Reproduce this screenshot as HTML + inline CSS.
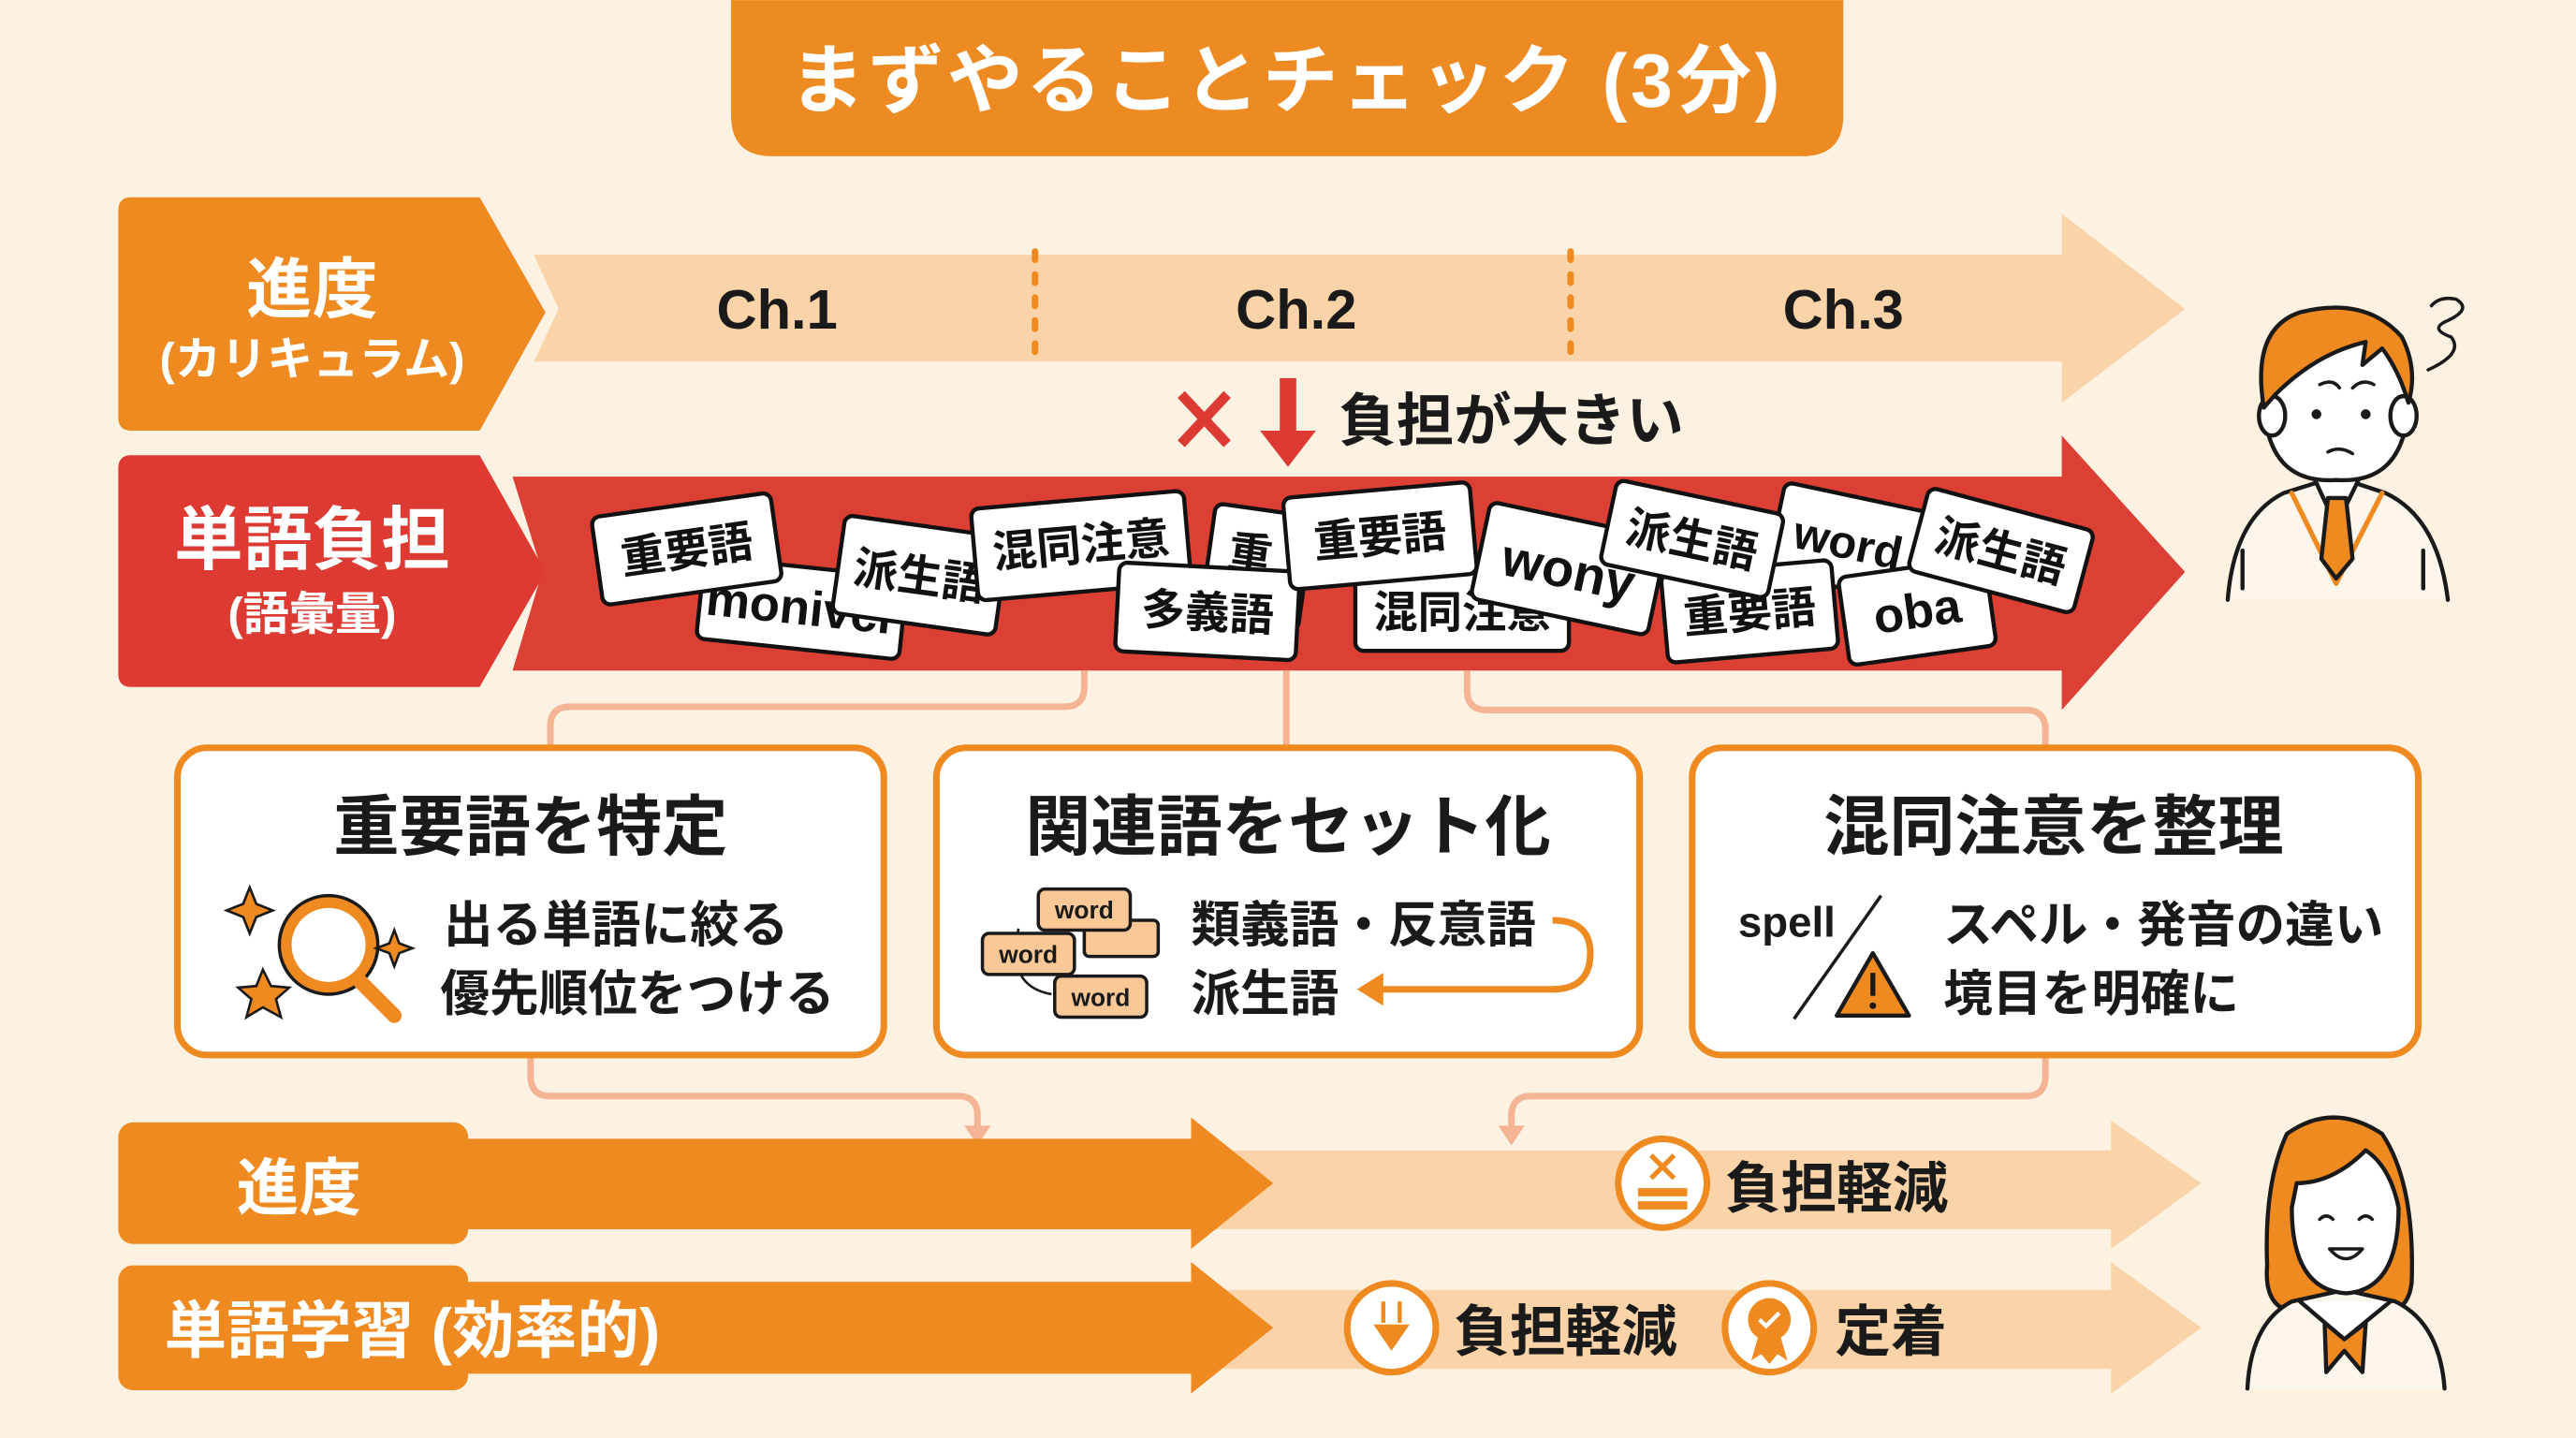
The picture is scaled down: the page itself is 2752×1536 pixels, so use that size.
<!DOCTYPE html>
<html><head><meta charset="utf-8"><style>
html,body{margin:0;padding:0;background:#fdf1e2;}
svg{display:block}
text{font-family:"Liberation Sans","Noto Sans CJK JP",sans-serif;font-weight:bold}
</style></head><body>
<svg width="2752" height="1536" viewBox="0 0 1568 875" xmlns="http://www.w3.org/2000/svg">
<rect width="1568" height="875" fill="#fdf1e2"/>
<!-- title -->
<path d="M445 0 H1122 V70 Q1122 95 1097 95 H470 Q445 95 445 70 Z" fill="#ee8a22"/>
<text x="783" y="65" font-size="46" fill="#fff" text-anchor="middle" letter-spacing="2">まずやることチェック (3分)</text>

<!-- row1 -->
<path d="M325 155 H1255 V130 L1330 188 L1255 245 V220 H325 L340 188 Z" fill="#fad3a8"/>
<path d="M80 120 H292 L332 190 L292 262 H80 Q72 262 72 254 V128 Q72 120 80 120 Z" fill="#ef8a20"/>
<text x="190" y="190" font-size="40" fill="#fff" text-anchor="middle">進度</text>
<text x="190" y="228" font-size="28" fill="#fff" text-anchor="middle">(カリキュラム)</text>
<line x1="630" y1="153" x2="630" y2="222" stroke="#ef8a20" stroke-width="4" stroke-dasharray="5 9" stroke-linecap="round"/>
<line x1="956" y1="153" x2="956" y2="222" stroke="#ef8a20" stroke-width="4" stroke-dasharray="5 9" stroke-linecap="round"/>
<text x="473" y="200" font-size="34" fill="#1a1a1a" text-anchor="middle">Ch.1</text>
<text x="789" y="200" font-size="34" fill="#1a1a1a" text-anchor="middle">Ch.2</text>
<text x="1122" y="200" font-size="34" fill="#1a1a1a" text-anchor="middle">Ch.3</text>
<path d="M719 240 L747 270 M747 240 L719 270" stroke="#dc3a33" stroke-width="6"/>
<path d="M779 230 H789 V262 H801 L784 284 L767 262 H779 Z" fill="#dc3a33"/>
<text x="815" y="268" font-size="35" fill="#1a1a1a">負担が大きい</text>

<!-- row2 -->
<path d="M312 290 H1255 V265 L1330 348 L1255 432 V408 H312 L330 348 Z" fill="#dc3f33"/>
<path d="M80 277 H292 L332 348 L292 418 H80 Q72 418 72 410 V285 Q72 277 80 277 Z" fill="#dc3a33"/>
<text x="190" y="343" font-size="42" fill="#fff" text-anchor="middle">単語負担</text>
<text x="190" y="383" font-size="28" fill="#fff" text-anchor="middle">(語彙量)</text>
<g font-size="27" text-anchor="middle" fill="#111">
<g transform="translate(488,370) rotate(6)"><rect x="-62" y="-25" width="124" height="50" rx="5" fill="#fff" stroke="#111" stroke-width="2.5"/><text y="10" font-size="30">monivcr</text></g>
<g transform="translate(418,334) rotate(-8)"><rect x="-55" y="-27" width="110" height="54" rx="5" fill="#fff" stroke="#111" stroke-width="2.5"/><text y="10">重要語</text></g>
<g transform="translate(560,350) rotate(8)"><rect x="-50" y="-30" width="100" height="60" rx="5" fill="#fff" stroke="#111" stroke-width="2.5"/><text y="10">派生語</text></g>
<g transform="translate(765,345) rotate(8)"><rect x="-30" y="-35" width="60" height="70" rx="5" fill="#fff" stroke="#111" stroke-width="2.5"/><text x="-5" y="2">重</text></g>
<g transform="translate(658,332) rotate(-5)"><rect x="-65" y="-28" width="130" height="56" rx="5" fill="#fff" stroke="#111" stroke-width="2.5"/><text y="9">混同注意</text></g>
<g transform="translate(735,372) rotate(3)"><rect x="-55" y="-27" width="110" height="54" rx="5" fill="#fff" stroke="#111" stroke-width="2.5"/><text y="10">多義語</text></g>
<g transform="translate(890,372)"><rect x="-65" y="-24" width="130" height="48" rx="5" fill="#fff" stroke="#111" stroke-width="2.5"/><text y="10">混同注意</text></g>
<g transform="translate(840,326) rotate(-5)"><rect x="-57" y="-28" width="114" height="56" rx="5" fill="#fff" stroke="#111" stroke-width="2.5"/><text y="10">重要語</text></g>
<g transform="translate(955,346) rotate(12)"><rect x="-55" y="-30" width="110" height="60" rx="5" fill="#fff" stroke="#111" stroke-width="2.5"/><text y="12" font-size="32">wony</text></g>
<g transform="translate(1125,330) rotate(12)"><rect x="-45" y="-28" width="90" height="56" rx="5" fill="#fff" stroke="#111" stroke-width="2.5"/><text y="10" font-size="28">word</text></g>
<g transform="translate(1065,372) rotate(-5)"><rect x="-52" y="-27" width="104" height="54" rx="5" fill="#fff" stroke="#111" stroke-width="2.5"/><text y="10">重要語</text></g>
<g transform="translate(1030,328) rotate(12)"><rect x="-52" y="-26" width="104" height="52" rx="5" fill="#fff" stroke="#111" stroke-width="2.5"/><text y="10">派生語</text></g>
<g transform="translate(1167,372) rotate(-8)"><rect x="-45" y="-27" width="90" height="54" rx="5" fill="#fff" stroke="#111" stroke-width="2.5"/><text y="10" font-size="30">oba</text></g>
<g transform="translate(1218,335) rotate(15)"><rect x="-52" y="-26" width="104" height="52" rx="5" fill="#fff" stroke="#111" stroke-width="2.5"/><text y="10">派生語</text></g>
</g>

<!-- connectors -->
<g fill="none" stroke="#f5b595" stroke-width="4">
<path d="M660 408 V418 Q660 430 648 430 H347 Q335 430 335 442 V455"/>
<path d="M783 408 V455"/>
<path d="M893 408 V420 Q893 432 905 432 H1233 Q1245 432 1245 444 V455"/>
<path d="M323 642 V655 Q323 667 335 667 H583 Q595 667 595 679 V690"/>
<path d="M1245 642 V655 Q1245 667 1233 667 H932 Q920 667 920 679 V690"/>
</g>
<path d="M587 685 L595 697 L603 685 Z M912 685 L920 697 L928 685 Z" fill="#f5b595"/>

<!-- boxes -->
<g fill="#fff" stroke="#ef8a20" stroke-width="4">
<rect x="108" y="455" width="430" height="187" rx="18"/>
<rect x="570" y="455" width="428" height="187" rx="18"/>
<rect x="1030" y="455" width="442" height="187" rx="18"/>
</g>
<g font-size="40" fill="#1a1a1a" text-anchor="middle">
<text x="323" y="517">重要語を特定</text>
<text x="784" y="517">関連語をセット化</text>
<text x="1250" y="517">混同注意を整理</text>
</g>
<g font-size="30" fill="#1a1a1a">
<text x="270" y="573">出る単語に絞る</text>
<text x="268" y="615">優先順位をつける</text>
<text x="725" y="573">類義語・反意語</text>
<text x="725" y="615">派生語</text>
<text x="1183" y="573">スペル・発音の違い</text>
<text x="1183" y="615">境目を明確に</text>
<text x="1058" y="570" font-size="26">spell</text>
</g>
<!-- magnifier -->
<circle cx="200" cy="575" r="26" fill="#fff" stroke="#ef8a20" stroke-width="7"/>
<circle cx="200" cy="575" r="30" fill="none" stroke="#1a1a1a" stroke-width="2"/>
<path d="M218 596 L240 618" stroke="#ef8a20" stroke-width="9" stroke-linecap="round"/>
<path d="M152 540 l4 10 10 4 -10 4 -4 10 -4 -10 -10 -4 10 -4 Z" fill="#ef8a20" stroke="#1a1a1a" stroke-width="1.5"/>
<path d="M240 566 l3 8 8 3 -8 3 -3 8 -3 -8 -8 -3 8 -3 Z" fill="#ef8a20" stroke="#1a1a1a" stroke-width="1.5"/>
<path d="M160 590 l5 10 11 1 -8 7 3 11 -11 -6 -10 6 3 -11 -8 -7 11 -1 Z" fill="#ef8a20" stroke="#1a1a1a" stroke-width="1.5"/>
<!-- word cards -->
<g font-size="15" fill="#1a1a1a" text-anchor="middle">
<path d="M620 565 Q612 600 640 605" fill="none" stroke="#1a1a1a" stroke-width="1.5"/>
<rect x="660" y="560" width="45" height="22" rx="3" fill="#f9c896" stroke="#1a1a1a" stroke-width="2"/>
<rect x="632" y="541" width="56" height="25" rx="4" fill="#f9c896" stroke="#1a1a1a" stroke-width="2"/><text x="660" y="559">word</text>
<rect x="598" y="568" width="56" height="25" rx="4" fill="#f9c896" stroke="#1a1a1a" stroke-width="2"/><text x="626" y="586">word</text>
<rect x="642" y="594" width="56" height="25" rx="4" fill="#f9c896" stroke="#1a1a1a" stroke-width="2"/><text x="670" y="612">word</text>
</g>
<path d="M945 560 Q968 560 968 580 Q968 602 945 602 H838" fill="none" stroke="#ef8a20" stroke-width="4"/>
<path d="M826 602 L842 592 L842 612 Z" fill="#ef8a20"/>
<!-- spell slash + warning -->
<line x1="1145" y1="545" x2="1092" y2="620" stroke="#1a1a1a" stroke-width="2"/>
<path d="M1140 580 L1162 618 H1118 Z" fill="#ef8a20" stroke="#1a1a1a" stroke-width="2.5" stroke-linejoin="round"/>
<line x1="1140" y1="592" x2="1140" y2="606" stroke="#1a1a1a" stroke-width="3"/><circle cx="1140" cy="612" r="2" fill="#1a1a1a"/>

<!-- row3 -->
<path d="M740 700 H1285 V682 L1340 720 L1285 760 V748 H740 Z" fill="#fad3a8"/>
<path d="M280 693 H725 V680 L775 720 L725 760 V748 H280 Z" fill="#ef8a20"/>
<rect x="72" y="683" width="213" height="74" rx="9" fill="#ef8a20"/>
<text x="182" y="736" font-size="38" fill="#fff" text-anchor="middle">進度</text>
<circle cx="1012" cy="720" r="27" fill="#fff" stroke="#ef8a20" stroke-width="4"/>
<path d="M1005 703 L1019 717 M1019 703 L1005 717" stroke="#ef8a20" stroke-width="3"/>
<rect x="997" y="723" width="30" height="5" fill="#ef8a20"/><rect x="997" y="731" width="30" height="5" fill="#ef8a20"/>
<text x="1050" y="735" font-size="34" fill="#1a1a1a">負担軽減</text>

<!-- row4 -->
<path d="M740 785 H1285 V768 L1340 808 L1285 848 V833 H740 Z" fill="#fad3a8"/>
<path d="M280 780 H725 V768 L775 808 L725 848 V836 H280 Z" fill="#ef8a20"/>
<rect x="72" y="770" width="213" height="76" rx="9" fill="#ef8a20"/>
<text x="100" y="823" font-size="38" fill="#fff">単語学習 (効率的)</text>
<circle cx="847" cy="808" r="27" fill="#fff" stroke="#ef8a20" stroke-width="4"/>
<path d="M836 806 H858 L847 822 Z" fill="#ef8a20"/><path d="M842 792 V805 M852 792 V805" stroke="#ef8a20" stroke-width="2.5"/>
<text x="885" y="822" font-size="34" fill="#1a1a1a">負担軽減</text>
<circle cx="1077" cy="808" r="27" fill="#fff" stroke="#ef8a20" stroke-width="4"/>
<circle cx="1077" cy="803" r="13" fill="#ef8a20"/><path d="M1070 814 L1066 828 L1072 824 L1077 830 L1082 824 L1088 828 L1084 814" fill="#ef8a20"/>
<path d="M1071 803 l4 4 8 -8" stroke="#fff" stroke-width="2.5" fill="none"/>
<text x="1117" y="822" font-size="34" fill="#1a1a1a">定着</text>

<!-- boy -->
<g stroke="#1a1a1a" stroke-width="2.5" stroke-linejoin="round" stroke-linecap="round">
<path d="M1356 365 Q1360 315 1390 300 L1422 290 L1452 300 Q1484 315 1490 365" fill="#fdf6ec"/>
<path d="M1395 300 L1422 355 L1450 300" fill="none" stroke="#ef8a20" stroke-width="3"/>
<path d="M1405 283 L1422 320 L1440 283" fill="#fff"/>
<path d="M1417 303 L1428 303 L1432 340 L1422 352 L1413 340 Z" fill="#ef8a20"/>
<rect x="1406" y="272" width="32" height="16" fill="#fff"/>
<path d="M1378 245 Q1380 295 1422 292 Q1464 295 1466 245 Q1466 215 1440 205 Q1410 200 1385 215 Z" fill="#fff"/>
<ellipse cx="1383" cy="253" rx="8" ry="12" fill="#fff"/><ellipse cx="1463" cy="253" rx="8" ry="12" fill="#fff"/>
<path d="M1378 248 Q1370 200 1400 190 Q1440 180 1462 205 Q1472 225 1466 245 Q1460 225 1450 212 L1438 222 L1440 208 Q1410 215 1385 240 Z" fill="#ef8a20"/>
<path d="M1478 225 Q1500 215 1492 205 Q1478 200 1490 195 Q1505 188 1495 182 Q1485 180 1480 186" fill="none" stroke-width="2"/>
<path d="M1412 234 Q1420 230 1424 236 M1445 234 Q1438 230 1432 236" fill="none" stroke-width="2"/>
<path d="M1417 275 Q1424 271 1432 276" fill="none" stroke-width="2"/>
<path d="M1365 335 V358 M1475 335 V358" fill="none"/>
</g>
<circle cx="1410" cy="252" r="3" fill="#1a1a1a"/><circle cx="1440" cy="252" r="3" fill="#1a1a1a"/>
<!-- girl -->
<g stroke="#1a1a1a" stroke-width="2.5" stroke-linejoin="round" stroke-linecap="round">
<path d="M1392 690 Q1420 670 1450 690 Q1470 720 1468 780 Q1466 800 1448 798 L1395 798 Q1378 795 1380 770 Q1378 720 1392 690 Z" fill="#ef8a20"/>
<path d="M1368 845 Q1370 805 1395 792 L1427 785 L1458 792 Q1485 805 1488 845" fill="#fdf6ec"/>
<path d="M1400 792 L1427 815 L1455 792" fill="#fff"/>
<path d="M1415 805 L1427 815 L1440 805 L1438 835 L1427 822 L1416 835 Z" fill="#ef8a20"/>
<path d="M1395 735 Q1395 785 1428 787 Q1460 785 1460 735 Q1455 710 1440 700 Q1420 720 1398 720 Z" fill="#fff"/>
<path d="M1412 742 Q1416 738 1420 742 M1436 742 Q1440 738 1444 742" fill="none" stroke-width="2"/>
<path d="M1418 760 Q1428 772 1438 760 Z" fill="#fff" stroke-width="2"/>
</g>
</svg>
</body></html>
